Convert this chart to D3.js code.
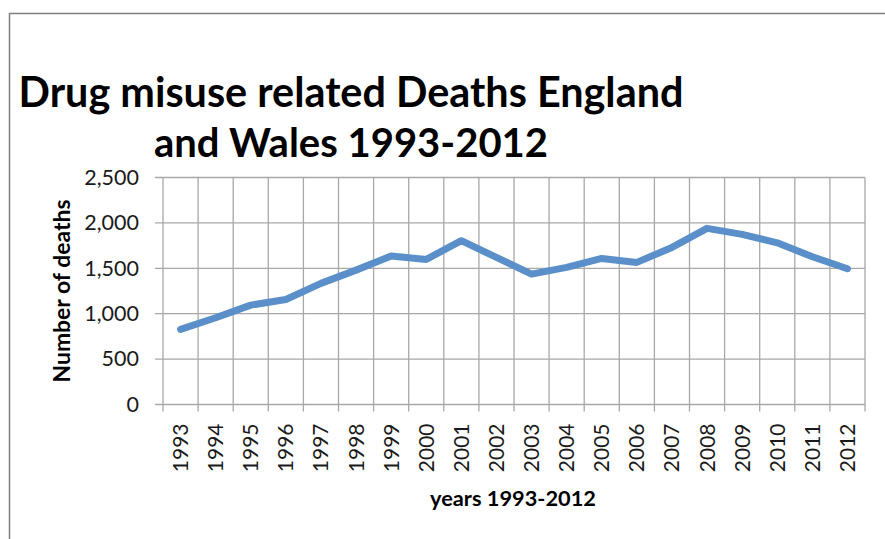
<!DOCTYPE html>
<html>
<head>
<meta charset="utf-8">
<script src="https://cdn.jsdelivr.net/npm/d3@7"></script>
<style>
  html, body { margin: 0; padding: 0; background: #fff; }
  svg { display: block; }
</style>
</head>
<body>
<svg id="chart" width="885" height="539"></svg>
<script>
const years = ["1993","1994","1995","1996","1997","1998","1999","2000","2001","2002",
               "2003","2004","2005","2006","2007","2008","2009","2010","2011","2012"];
const deaths = [827, 955, 1094, 1157, 1334, 1480, 1635, 1598, 1804, 1620,
                1436, 1510, 1609, 1565, 1730, 1940, 1874, 1781, 1627, 1495];
const yTicks = [0, 500, 1000, 1500, 2000, 2500];
const titleLines = ["Drug misuse related Deaths England", "and Wales 1993-2012"];
const xTitle = "years 1993-2012";
const yTitle = "Number of deaths";

(function () {
const svg = d3.select("#chart");
const W = 885, H = 539;
const pL = 163, pR = 865, pT = 177.5, pB = 404.5;
const FONT = "Lato, 'Open Sans', sans-serif";
const gridColor = "#a8a8a8";

// frame
svg.append("path")
  .attr("d", `M9.5,${H} V13.5 H${W}`)
  .attr("fill", "none").attr("stroke", "#7f7f7f").attr("stroke-width", 1.5);

const x = d3.scaleBand().domain(years).range([pL, pR]).paddingInner(0).paddingOuter(0);
const y = d3.scaleLinear().domain([0, 2500]).range([pB, pT]);

function fit(sel, target) {
  const node = sel.node();
  const fs = parseFloat(sel.attr("font-size"));
  const w = node.getComputedTextLength();
  if (w > 0) sel.attr("font-size", (fs * target / w).toFixed(2));
}

const gGrid = svg.append("g");
gGrid.selectAll("line.h").data(yTicks).join("line").attr("class", "h")
  .attr("x1", pL - 8).attr("x2", pR)
  .attr("y1", d => y(d)).attr("y2", d => y(d))
  .attr("stroke", gridColor).attr("stroke-width", 1.3);

const bounds = years.map(d => x(d)).concat([pR]);
gGrid.selectAll("line.v").data(bounds).join("line").attr("class", "v")
  .attr("x1", d => d).attr("x2", d => d)
  .attr("y1", pT).attr("y2", pB + 7)
  .attr("stroke", gridColor).attr("stroke-width", 1.3);

// y labels
const gyl = svg.append("g").attr("transform", `translate(${pL},0)`)
  .call(d3.axisLeft(y).tickValues(yTicks).tickSize(0).tickPadding(24).tickFormat(d3.format(",")));
gyl.select(".domain").remove();
gyl.selectAll("text").attr("font-family", FONT).attr("font-size", 21.5).attr("fill", "#1a1a1a");

// x labels
const gxl = svg.append("g").attr("transform", `translate(0,${pB})`)
  .call(d3.axisBottom(x).tickSize(0).tickPadding(0));
gxl.select(".domain").remove();
gxl.selectAll("text")
  .attr("font-family", FONT).attr("font-size", 21).attr("fill", "#1a1a1a")
  .attr("text-anchor", "end")
  .attr("dy", null).attr("y", 0)
  .attr("transform", "translate(7.5,19) rotate(-90)");

// line
const line = d3.line().x((d, i) => x(years[i]) + x.bandwidth() / 2).y(d => y(d));
svg.append("path").datum(deaths)
  .attr("d", line)
  .attr("fill", "none").attr("stroke", "#5a8fca").attr("stroke-width", 7)
  .attr("stroke-linejoin", "round").attr("stroke-linecap", "round");

// title
const t1 = svg.append("text").attr("x", 351).attr("y", 107).attr("text-anchor", "middle")
  .attr("font-family", FONT).attr("font-weight", "bold").attr("font-size", 40).attr("fill", "#000")
  .text(titleLines[0]);
fit(t1, 665);
const t2 = svg.append("text").attr("x", 351).attr("y", 157).attr("text-anchor", "middle")
  .attr("font-family", FONT).attr("font-weight", "bold").attr("font-size", 40).attr("fill", "#000")
  .text(titleLines[1]);
fit(t2, 394);

// axis titles
const xt = svg.append("text").attr("x", 513).attr("y", 506).attr("text-anchor", "middle")
  .attr("font-family", FONT).attr("font-weight", "bold").attr("font-size", 20).attr("fill", "#000")
  .text(xTitle);
fit(xt, 166);
const yt = svg.append("text").attr("text-anchor", "middle")
  .attr("transform", "translate(70,291) rotate(-90)")
  .attr("font-family", FONT).attr("font-weight", "bold").attr("font-size", 20).attr("fill", "#000")
  .text(yTitle);
fit(yt, 183);
})();
</script>
</body>
</html>
